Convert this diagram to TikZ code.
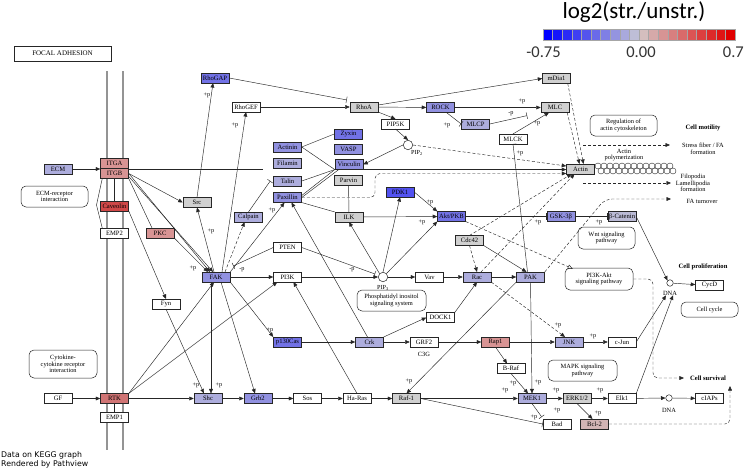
\documentclass[tikz,border=0pt]{standalone}
\usepackage{fontspec}
\setmainfont{Liberation Serif}
\newfontfamily\legendfont{Carlito}
\newfontfamily\pathviewfont{DejaVu Sans}
\usepackage{xcolor}
\usepackage{tikz}
\usetikzlibrary{arrows.meta,calc,positioning}
\definecolor{keggblueA}{HTML}{5252F0}
\definecolor{keggblueB}{HTML}{7272E6}
\definecolor{keggblueC}{HTML}{9191E0}
\definecolor{keggblueD}{HTML}{ADADDD}
\definecolor{keggblueE}{HTML}{BBBBD6}
\definecolor{kegggray}{HTML}{D0D0D0}
\definecolor{keggredA}{HTML}{D04848}
\definecolor{keggredB}{HTML}{D07474}
\definecolor{keggredC}{HTML}{D89494}
\definecolor{keggredD}{HTML}{D2B4B4}
\definecolor{keggline}{HTML}{262626}
\definecolor{legendblue}{HTML}{0000FF}
\definecolor{legendgray}{HTML}{D3D3D3}
\definecolor{legendred}{HTML}{E00000}
\tikzset{
gene box/.style={
  draw=keggline,
  line width=0.5pt,
  minimum width=28pt,
  minimum height=9.6pt,
  inner sep=0pt,
  fill=white,
  font=\fontsize{6.6}{7}\selectfont
},
white box/.style={gene box},
gray box/.style={gene box, fill=kegggray},
blue a box/.style={gene box, fill=keggblueA},
blue b box/.style={gene box, fill=keggblueB},
blue c box/.style={gene box, fill=keggblueC},
blue d box/.style={gene box, fill=keggblueD},
blue e box/.style={gene box, fill=keggblueE},
red a box/.style={gene box, fill=keggredA},
red b box/.style={gene box, fill=keggredB},
red c box/.style={gene box, fill=keggredC},
red d box/.style={gene box, fill=keggredD},
map box/.style={
  draw=keggline,
  line width=0.5pt,
  rounded corners=5pt,
  align=center,
  inner sep=0pt,
  font=\fontsize{6.4}{6.8}\selectfont
},
cpd node/.style={circle, draw=keggline, line width=0.5pt, fill=white, inner sep=0pt, minimum size=9.5pt},
small cpd/.style={cpd node, minimum size=6.5pt},
fig flow/.style={draw=keggline, line width=0.45pt, -{Triangle[length=4.5pt,width=3.8pt]}},
fig inhibit/.style={draw=keggline, line width=0.45pt, -{Bar[width=6.5pt]}},
fig dashed/.style={fig flow, dash pattern=on 3pt off 2pt},
fig open/.style={draw=keggline, line width=0.45pt, dash pattern=on 3pt off 2pt, -{Triangle[open,length=5pt,width=4.5pt]}},
fig bind/.style={draw=keggline, line width=0.45pt},
fig label/.style={font=\fontsize{6.2}{6.2}\selectfont, inner sep=0pt},
out label/.style={font=\fontsize{6.4}{6.8}\selectfont, align=center, inner sep=0pt},
bold label/.style={font=\fontsize{6.6}{7}\selectfont\bfseries, inner sep=0pt},
membrane/.style={draw=black!42, line width=1.8pt},
actin bead/.style={draw=keggline, line width=0.4pt, fill=white},
legend cell/.style={draw=black!35, line width=0.3pt},
legend num/.style={font=\legendfont\fontsize{16.5}{16.5}\selectfont, text=black!80, inner sep=0pt}
}
\begin{document}
\begin{tikzpicture}[x=1pt,y=-1pt]
\fill[white] (0,0) rectangle (744,471);
\useasboundingbox (0,0) rectangle (744,471);
\node[draw=keggline, line width=0.9pt, minimum width=97pt, minimum height=15pt, inner sep=0pt, font=\fontsize{7}{7}\selectfont] (focal) at (62.5,53.5) {FOCAL ADHESION};
\draw[membrane] (107,71) -- (107,450);
\draw[membrane] (123,71) -- (123,450);

\node[legend num, font=\legendfont\fontsize{23}{23}\selectfont, text=black, anchor=base] (legtitle) at (634,18) {log2(str./unstr.)};
\foreach \i in {0,...,9}{\pgfmathtruncatemacro{\mix}{100-10*\i}
  \draw[legend cell, fill=legendblue!\mix!legendgray] (543+9.6*\i,29) rectangle ++(9.6,11);}
\foreach \i in {1,...,10}{\pgfmathtruncatemacro{\mix}{10*\i}
  \draw[legend cell, fill=legendred!\mix!legendgray] (629.4+9.6*\i,29) rectangle ++(9.6,11);}
\node[legend num, anchor=base] (legmin) at (543.5,57.5) {-0.75};
\node[legend num, anchor=base] (legmid) at (641,57.5) {0.00};
\node[legend num, anchor=base east] (legmax) at (744,57.5) {0.7};

\node[map box, minimum width=67pt, minimum height=21pt] (ecmrec) at (54.5,196.5) {ECM-receptor\\interaction};
\node[map box, minimum width=68pt, minimum height=28pt] (cytokine) at (63,364) {Cytokine-\\cytokine receptor\\interaction};
\node[map box, minimum width=67pt, minimum height=21pt] (regactin) at (623.5,125.5) {Regulation of\\actin cytoskeleton};
\node[map box, minimum width=69pt, minimum height=21pt] (pisys) at (391.5,300.5) {Phosphatidyl inositol\\signaling system};
\node[map box, minimum width=57pt, minimum height=22pt] (wnt) at (606.5,238) {Wnt signaling\\pathway};
\node[map box, minimum width=68pt, minimum height=22pt] (pi3kakt) at (599,279) {PI3K-Akt\\signaling pathway};
\node[map box, minimum width=69pt, minimum height=21pt] (mapk) at (582.5,370.5) {MAPK signaling\\pathway};
\node[map box, minimum width=57pt, minimum height=15pt] (cellcycle) at (709.5,309.5) {Cell cycle};

\node[bold label] (motility) at (703,128) {Cell motility};
\node[out label] (stress) at (703,148.5) {Stress fiber / FA\\formation};
\node[out label] (actinpoly) at (624,155) {Actin\\polymerization};
\node[out label] (filopodia) at (693,183) {Filopodia\\Lamellipodia\\formation};
\node[out label] (faturn) at (702,201) {FA turnover};
\node[bold label] (prolif) at (703,267) {Cell proliferation};
\node[bold label] (survival) at (708,378) {Cell survival};
\foreach \i in {0,...,12}{
  \draw[actin bead] (598+6*\i,166) circle[radius=3pt];
  \draw[actin bead] (601+6*\i,171) circle[radius=3pt];}

\node[blue d box] (ECM) at (58,169) {ECM};
\node[red c box] (ITGA) at (114.5,163) {ITGA};
\node[red c box] (ITGB) at (114.5,173.5) {ITGB};
\node[red a box] (Caveolin) at (114.5,206) {Caveolin};
\node[white box] (EMP2) at (114.5,233) {EMP2};
\node[gray box] (Src) at (197,202.5) {Src};
\node[red c box] (PKC) at (160,233) {PKC};
\node[white box] (Fyn) at (166,304) {Fyn};
\node[blue d box] (Calpain) at (248.5,217) {Calpain};
\node[blue c box] (FAK) at (216,277) {FAK};
\node[blue b box] (RhoGAP) at (215,78) {RhoGAP};
\node[white box] (RhoGEF) at (246,107) {RhoGEF};
\node[gray box] (RhoA) at (364,107) {RhoA};
\node[white box] (PIPfiveK) at (395.5,124) {PIP5K};
\node[cpd node] (PIPtwo) at (408,145) {};
\node[fig label] (PIPtwolab) at (417,153) {PIP\textsubscript{2}};
\node[blue c box] (ROCK) at (440.5,107.5) {ROCK};
\node[blue d box] (MLCP) at (475.5,124) {MLCP};
\node[gray box] (MLC) at (555,107.5) {MLC};
\node[gray box] (mDia) at (556.5,78.5) {mDia1};
\node[white box] (MLCK) at (513,139) {MLCK};
\node[gray box] (Actin) at (580.5,169) {Actin};
\node[blue c box] (Actinin) at (287.5,147) {Actinin};
\node[blue b box] (Zyxin) at (348.5,134) {Zyxin};
\node[blue c box] (VASP) at (348.5,149) {VASP};
\node[blue d box] (Filamin) at (287.5,163) {Filamin};
\node[blue c box] (Vinculin) at (349,164.5) {Vinculin};
\node[blue d box] (Talin) at (287.5,181) {Talin};
\node[gray box] (Parvin) at (348.5,180.5) {Parvin};
\node[blue c box] (Paxillin) at (287.5,197.5) {Paxillin};
\node[gray box] (ILK) at (349,217) {ILK};
\node[blue a box] (PDK) at (400,192) {PDK1};
\node[blue b box] (Akt) at (451.5,216.5) {Akt/PKB};
\node[blue c box] (GSK) at (561,216.5) {GSK-3β};
\node[blue e box] (bCat) at (622,216.5) {β-Catenin};
\node[white box] (PTEN) at (287.5,247.5) {PTEN};
\node[white box] (PIthreeK) at (287.5,277) {PI3K};
\node[cpd node] (PIPthree) at (383,277) {};
\node[fig label] (PIPthreelab) at (383,288) {PIP\textsubscript{3}};
\node[white box] (Vav) at (429.5,277) {Vav};
\node[gray box] (Cdc) at (469.5,240.5) {Cdc42};
\node[blue d box] (Rac) at (477,277) {Rac};
\node[blue d box] (PAK) at (530.5,277) {PAK};
\node[small cpd] (DNAa) at (670,283) {};
\node[out label] (DNAalab) at (670,293) {DNA};
\node[white box] (CycD) at (709.5,285.5) {CycD};
\node[white box] (GF) at (58,398.5) {GF};
\node[red b box] (RTK) at (114.5,398.5) {RTK};
\node[white box] (EMP1) at (114.5,417) {EMP1};
\node[blue d box] (Shc) at (208,398.5) {Shc};
\node[blue c box] (Grb) at (258,398.5) {Grb2};
\node[white box] (Sos) at (307.5,398.5) {Sos};
\node[white box] (HaRas) at (357,398.5) {Ha-Ras};
\node[gray box] (Raf) at (406.5,398.5) {Raf-1};
\node[blue b box] (Cas) at (287.5,342) {p130Cas};
\node[blue d box] (Crk) at (369.5,342) {Crk};
\node[white box] (GRF) at (424,342) {GRF2};
\node[out label] (CthreeG) at (424,354) {C3G};
\node[white box] (DOCK) at (440.5,317.5) {DOCK1};
\node[red c box] (Rap) at (495.5,342) {Rap1};
\node[blue d box] (JNK) at (569,342) {JNK};
\node[white box] (cJun) at (622,342) {c-Jun};
\node[white box] (BRaf) at (511,368.5) {B-Raf};
\node[blue d box] (MEK) at (532,398.5) {MEK1};
\node[gray box] (ERK) at (577,398.5) {ERK1/2};
\node[white box] (Elk) at (622,398.5) {Elk1};
\node[small cpd] (DNAb) at (669,398) {};
\node[out label] (DNAblab) at (669,410) {DNA};
\node[white box] (cIAP) at (709.5,398.5) {cIAPs};
\node[white box] (Bad) at (557,424) {Bad};
\node[red d box] (Bcl) at (594.5,424) {Bcl-2};

\coordinate (grp) at (263,169.5);
\coordinate (sfstart) at (583,145);
\coordinate (sfend) at (670,145);
\coordinate (fpstart) at (583,183);
\coordinate (fpend) at (671,183);
\coordinate (faend) at (671,199);
\coordinate (survend) at (730,386);

\draw[fig flow] (ECM.east) -- (ECM.east -| ITGB.west);
\draw[fig bind] (ITGB.east |- grp) -- (grp);
\draw[fig bind] ([xshift=2pt]ITGB.south west) -- (96.5,205) -- ([xshift=2pt]EMP2.north west);
\draw[fig bind] (ITGB) -- (Caveolin);
\draw[fig bind] (RTK) -- (EMP1);
\draw[fig flow] (ITGB.east) -- (Src.west);
\draw[fig flow] (ITGB.east) -- ([xshift=-6pt]FAK.north);
\draw[fig flow] ([yshift=-3pt]ITGB.east) -- ([xshift=-3pt]FAK.north);
\draw[fig bind] (ITGB.south east) -- ([xshift=-8pt]PKC.north);
\draw[fig flow] (PKC.south east) -- ([xshift=-8pt]FAK.north);
\draw[fig flow] ([xshift=-2pt]FAK.north) -- (Src.south);
\draw[fig flow] (Src.north) -- ([xshift=-2pt]RhoGAP.south);
\draw[fig flow] ([xshift=6pt]FAK.north) -- (RhoGEF.south);
\draw[fig dashed] ([xshift=9pt]FAK.north) -- ([xshift=-4pt]Calpain.south);
\draw[fig inhibit] (Calpain.north) -- ([xshift=-3pt]Talin.west);
\draw[fig flow] (FAK.north east) -- ([xshift=-3pt]Paxillin.south);
\draw[fig flow] ([xshift=-2pt]Crk.north) -- ([xshift=4pt]Paxillin.south);
\draw[fig flow] (Caveolin.south east) -- (Fyn.north);
\draw[fig inhibit] (RhoGAP.east) -- ([xshift=-3pt,yshift=2pt]RhoA.north west);
\draw[fig flow] (RhoGEF) -- (RhoA);
\draw[fig flow] (RhoA) -- (ROCK);
\draw[fig flow] ([yshift=2pt]RhoA.east) -- (mDia.west);
\draw[fig flow] (RhoA.south east) -- (PIPfiveK.north);
\draw[fig flow] (PIPfiveK.south) -- (PIPtwo.north);
\draw[fig inhibit] ([xshift=6pt]ROCK.south) -- (MLCP.west);
\draw[fig flow] (ROCK) -- (MLC);
\draw[fig inhibit, shorten >=14pt] (MLCP.east) -- (MLC.south west);
\draw[fig flow] (MLCK.north) -- ([xshift=-6pt]MLC.south);
\draw[fig inhibit] ([xshift=-3pt]PAK.north) -- (MLCK.south);
\draw[fig dashed] ([xshift=-3pt]mDia.south east) -- ([xshift=3pt]Actin.north);
\draw[fig dashed] ([xshift=-2pt]MLC.south east) -- ([xshift=-1pt]Actin.north);
\draw[fig dashed] (PIPtwo.east) -- ([yshift=3pt]Actin.west);
\draw[fig flow] (PIPtwo.west) -- (Vinculin.east);
\draw[fig bind] (Actinin.east) -- (Zyxin.west);
\draw[fig bind] (Actinin.east) -- (Vinculin.south west);
\draw[fig bind] (Talin.east) -- (Vinculin.south west);
\draw[fig bind] ([yshift=2pt]Paxillin.east) -- (Vinculin.south west);
\draw[fig bind] (Paxillin.east) -- ([xshift=4pt]Vinculin.south west);
\draw[fig bind] (Paxillin.south east) -- (ILK.north west);
\draw[fig bind] (Parvin) -- (ILK);
\draw[fig flow] (Vinculin.south east) -- (Vinculin.south east -| Actin.west);
\draw[fig dashed, rounded corners=5pt] (Paxillin.east) -| (375,173.5) -- ([yshift=-4.5pt]Actin.west);
\draw[fig dashed] (sfstart) -- (sfend);
\draw[fig dashed] (fpstart) -- (fpend);
\draw[fig dashed, rounded corners=7pt] (PAK.north east) -- (605,199) -- (faend);
\draw[fig inhibit] (PTEN.west) -- ([xshift=3pt,yshift=6pt]FAK.north east);
\draw[fig flow] (FAK) -- (PIthreeK);
\draw[fig inhibit] (PTEN.east) -- ([xshift=-3pt,yshift=3pt]PIPthree.west);
\draw[fig flow] (PIthreeK) -- (PIPthree);
\draw[fig flow] (PIPthree) -- (Vav);
\draw[fig flow] (Vav) -- (Rac);
\draw[fig flow] (Rac) -- (PAK);
\draw[fig flow] (PIPthree.north west) -- (ILK.south);
\draw[fig flow] (PIPthree.north) -- (PDK.south);
\draw[fig flow] (PIPthree.north east) -- (Akt.south west);
\draw[fig flow] (PDK.east) -- (Akt.north west);
\draw[fig flow] (ILK) -- (Akt);
\draw[fig inhibit] (Akt) -- (GSK);
\draw[fig inhibit] (GSK) -- (bCat);
\draw[fig open] (Akt.south east) -- ([xshift=8pt,yshift=-1pt]pi3kakt.north west);
\draw[fig flow] (Cdc.south east) -- ([xshift=-4pt]PAK.north);
\draw[fig dashed] (Cdc.south) -- (Rac.north);
\draw[fig dashed] (Cdc.north) -- ([xshift=-9pt]Actin.south);
\draw[fig dashed] ([xshift=4pt]Rac.north) -- ([xshift=-6pt]Actin.south);
\draw[fig dashed] (Rac.south east) -- ([xshift=-4pt]JNK.north);
\draw[fig flow] (bCat.east) -- (DNAa.north west);
\draw[fig flow] (DNAa) -- (CycD);
\draw[fig flow] (cJun.east) -- ([xshift=-4pt]DNAalab.south);
\draw[fig flow] (Elk.north east) -- ([xshift=3pt]DNAalab.south);
\draw[fig dashed, rounded corners=5pt] (pi3kakt.east) -| (653,378) -- ([xshift=-6pt]survival.west);
\draw[fig dashed, rounded corners=5pt] (Bcl.east) -| (survend);
\draw[fig flow] (GF) -- (RTK);
\draw[fig flow] (RTK) -- (Shc);
\draw[fig flow] (RTK.north east) -- ([xshift=-2pt]FAK.south);
\draw[fig flow] (RTK.north east) -- ([xshift=4pt]PIthreeK.south west);
\draw[fig flow] (Fyn.south) -- ([xshift=-4pt]Shc.north);
\draw[fig flow] ([xshift=-5pt]FAK.south) -- ([xshift=3pt]Shc.north);
\draw[fig flow] ([xshift=5pt]FAK.south) -- ([xshift=-3pt]Grb.north);
\draw[fig flow] (FAK.south east) -- (Cas.north west);
\draw[fig flow] (HaRas.north) -- ([xshift=6pt]PIthreeK.south);
\draw[fig flow] (Shc) -- (Grb);
\draw[fig flow] (Grb) -- (Sos);
\draw[fig flow] (Sos) -- (HaRas);
\draw[fig flow] (HaRas) -- (Raf);
\draw[fig flow] (Raf) -- (MEK);
\draw[fig flow] (MEK) -- (ERK);
\draw[fig flow] (ERK) -- (Elk);
\draw[fig flow] (Elk) -- (DNAb);
\draw[fig flow] (DNAb) -- (cIAP);
\draw[fig inhibit] (Raf.east) -- (Bad.west);
\draw[fig inhibit] (MEK.south) -- ([xshift=-1pt,yshift=2pt]Bad.north west);
\draw[fig flow] (ERK.south) -- ([xshift=-2pt]Bcl.north);
\draw[fig flow] (Cas) -- (Crk);
\draw[fig flow] (Crk) -- (GRF);
\draw[fig flow] (Crk.north east) -- (DOCK.west);
\draw[fig flow] (DOCK.north east) -- (Rac.south);
\draw[fig flow] (GRF) -- (Rap);
\draw[fig flow] (Rap) -- (JNK);
\draw[fig flow] (Rap.south) -- ([xshift=-4pt]BRaf.north);
\draw[fig flow] (BRaf.south) -- ([xshift=-4pt]MEK.north);
\draw[fig flow] (PAK.south) -- (MEK.north);
\draw[fig flow] (PAK.south west) -- (Raf.north);
\draw[fig flow] (JNK) -- (cJun);

\node[fig label] (pa) at (207,95) {+p};
\node[fig label] (pb) at (235,125) {+p};
\node[fig label] (pc) at (447,125) {+p};
\node[fig label] (pd) at (522,101) {+p};
\node[fig label] (pe) at (511,114) {-p};
\node[fig label] (pf) at (537,123) {+p};
\node[fig label] (pg) at (520,153) {+p};
\node[fig label] (ph) at (211,231) {+p};
\node[fig label] (pi) at (193,268) {+p};
\node[fig label] (pj) at (272,210) {+p};
\node[fig label] (pk) at (242,270) {-p};
\node[fig label] (pl) at (352,270) {-p};
\node[fig label] (pm) at (430,202) {+p};
\node[fig label] (pn) at (422,222) {+p};
\node[fig label] (po) at (538,222) {+p};
\node[fig label] (pq) at (599,222) {+p};
\node[fig label] (pr) at (270,330) {+p};
\node[fig label] (ps) at (196,385) {+p};
\node[fig label] (pt) at (219,385) {+p};
\node[fig label] (pu) at (409,381) {+p};
\node[fig label] (pv) at (505,390) {+p};
\node[fig label] (pw) at (513,383) {+p};
\node[fig label] (px) at (538,382) {+p};
\node[fig label] (py) at (556,390) {+p};
\node[fig label] (pz) at (600,390) {+p};
\node[fig label] (paa) at (598,413) {+p};
\node[fig label] (pab) at (557,410) {+p};
\node[fig label] (pac) at (534,417) {+p};
\node[fig label] (pad) at (593,336) {+p};
\node[fig label] (pae) at (558,325) {+p};

\node[anchor=west, align=left, inner sep=0pt, font=\pathviewfont\fontsize{7.8}{9}\selectfont] (pathview) at (1,460) {Data on KEGG graph\\Rendered by Pathview};
\end{tikzpicture}
\end{document}
